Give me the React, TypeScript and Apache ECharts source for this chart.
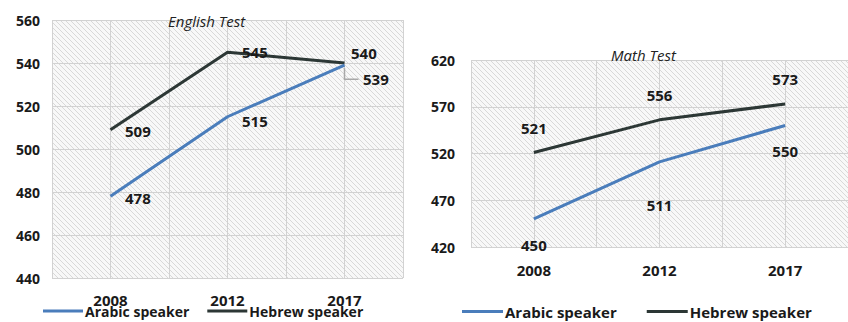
import React, { useEffect, useRef } from "react";
import * as echarts from "echarts";

// Test years shared by both panels
const years = ["2008", "2012", "2017"];

// English test scores
const englishArabic = [478, 515, 539];
const englishHebrew = [509, 545, 540];

// Math test scores
const mathArabic = [450, 511, 550];
const mathHebrew = [521, 556, 573];

const BLUE = "#4a7dbb";
const DARK = "#2c3735";
const FONT = "Open Sans";

function hatchPattern() {
  const size = 5;
  const c = document.createElement("canvas");
  c.width = size;
  c.height = size;
  const ctx = c.getContext("2d")!;
  ctx.fillStyle = "#f8f8f8";
  ctx.fillRect(0, 0, size, size);
  ctx.strokeStyle = "#d8d8d8";
  ctx.lineWidth = 1;
  for (let k = -1; k <= 1; k++) {
    ctx.beginPath();
    ctx.moveTo(-1, -1 + size * k);
    ctx.lineTo(size + 1, size + 1 + size * k);
    ctx.stroke();
  }
  return {
    image: c.toDataURL(),
    imageWidth: size,
    imageHeight: size,
    repeat: "repeat",
  } as any;
}

export default function App() {
  const ref = useRef<HTMLDivElement>(null);

  useEffect(() => {
    if (!ref.current) return;
    const chart = echarts.init(ref.current, undefined, { renderer: "svg" });
    const pattern = hatchPattern();

    const labelBase = {
      show: true,
      opacity: 1,
      color: "#1a1a1a",
      fontFamily: FONT,
      fontWeight: "bold" as const,
      fontSize: 15,
    };

    const LEADER_DROP = 14;
    const LEADER_GAP = 18;

    const engArabicLabels = [
      { position: "right", distance: 14, offset: [0, 2] },
      { position: "right", distance: 14, offset: [0, 4] },
      { position: "right", distance: LEADER_GAP, offset: [0, LEADER_DROP] },
    ];
    const engHebrewLabels = [
      { position: "right", distance: 14, offset: [0, 1] },
      { position: "right", distance: 14, offset: [0, 0] },
      { position: "right", distance: 6, offset: [0, -10] },
    ];
    const mathArabicLabels = [
      { position: "bottom", distance: 18 },
      { position: "bottom", distance: 35 },
      { position: "bottom", distance: 18 },
    ];
    const mathHebrewLabels = [
      { position: "top", distance: 17 },
      { position: "top", distance: 17 },
      { position: "top", distance: 17 },
    ];

    const build = (vals: number[], labels: any[]) =>
      vals.map((v, i) => ({ value: v, label: labels[i] }));

    const axisText = {
      color: "#1a1a1a",
      fontFamily: FONT,
      fontWeight: "bold" as const,
    };

    const gridLine = { show: true, lineStyle: { color: "#d2d2d2", width: 1 } };

    const valueAxisBase = {
      type: "value" as const,
      axisLine: { show: false },
      axisTick: { show: false },
      splitLine: gridLine,
    };

    const catAxisBase = {
      type: "category" as const,
      data: years,
      boundaryGap: true,
      axisLine: { show: false },
      axisTick: { show: false },
      splitLine: { show: false },
    };

    // Hidden helper axes that give the half-band vertical gridlines
    const vGridAxis = (gridIndex: number) => ({
      type: "value" as const,
      gridIndex,
      min: 0,
      max: 6,
      interval: 1,
      position: "top" as const,
      axisLine: { show: false },
      axisTick: { show: false },
      axisLabel: { show: false },
      splitLine: gridLine,
    });

    const lineSeries = (
      name: string,
      color: string,
      axis: number,
      data: any[],
      z: number
    ) => ({
      name,
      type: "line",
      xAxisIndex: axis,
      yAxisIndex: axis,
      symbol: "circle",
      symbolSize: 1,
      showSymbol: true,
      lineStyle: { color, width: 3 },
      itemStyle: { color, opacity: 0 },
      emphasis: { disabled: true },
      data,
      label: labelBase,
      z,
    });

    const titleStyle = {
      fontFamily: FONT,
      fontStyle: "italic" as const,
      fontWeight: "normal" as const,
      fontSize: 15,
      color: "#222",
    };

    const legendBase = {
      top: 304,
      icon: "rect",
      itemHeight: 3,
      padding: 0,
      data: ["Arabic speaker", "Hebrew speaker"],
      itemStyle: { opacity: 1 },
    };

    chart.setOption({
      animation: false,
      backgroundColor: "#ffffff",
      title: [
        { text: "English Test", left: 163, top: 8, textStyle: titleStyle },
        { text: "Math Test", left: 606, top: 42, textStyle: titleStyle },
      ],
      legend: [
        {
          ...legendBase,
          left: 43,
          itemWidth: 40,
          itemGap: 18,
          textStyle: { ...axisText, fontSize: 14, padding: [0, 0, 0, -3] },
        },
        {
          ...legendBase,
          left: 462,
          itemWidth: 41,
          itemGap: 30,
          textStyle: { ...axisText, fontSize: 15, padding: [0, 0, 0, -3] },
        },
      ],
      grid: [
        { left: 52, top: 20, width: 351, height: 258, show: true, backgroundColor: pattern, borderWidth: 0 },
        { left: 471, top: 60, width: 383, height: 187, show: true, backgroundColor: pattern, borderWidth: 0 },
      ],
      xAxis: [
        { ...catAxisBase, gridIndex: 0, axisLabel: { ...axisText, fontSize: 15, margin: 14 } },
        { ...catAxisBase, gridIndex: 1, axisLabel: { ...axisText, fontSize: 15, margin: 15 } },
        vGridAxis(0),
        vGridAxis(1),
      ],
      yAxis: [
        {
          ...valueAxisBase,
          gridIndex: 0,
          min: 440,
          max: 560,
          interval: 20,
          axisLabel: { ...axisText, fontSize: 14, margin: 12 },
        },
        {
          ...valueAxisBase,
          gridIndex: 1,
          min: 420,
          max: 620,
          interval: 50,
          axisLabel: { ...axisText, fontSize: 14, margin: 16 },
        },
      ],
      series: [
        lineSeries("Arabic speaker", BLUE, 0, build(englishArabic, engArabicLabels), 3),
        lineSeries("Hebrew speaker", DARK, 0, build(englishHebrew, engHebrewLabels), 2),
        lineSeries("Arabic speaker", BLUE, 1, build(mathArabic, mathArabicLabels), 3),
        lineSeries("Hebrew speaker", DARK, 1, build(mathHebrew, mathHebrewLabels), 2),
      ],
    });

    // Elbow leader from the 2017 Arabic point down and across to its label
    const last = englishArabic.length - 1;
    const [px, py] = chart.convertToPixel({ xAxisIndex: 0, yAxisIndex: 0 }, [
      last,
      englishArabic[last],
    ]) as number[];
    chart.setOption({
      graphic: [
        {
          type: "polyline",
          z: 1,
          shape: {
            points: [
              [px, py + 3],
              [px, py + LEADER_DROP],
              [px + LEADER_GAP - 4, py + LEADER_DROP],
            ],
          },
          style: { stroke: "#a8a8a8", lineWidth: 1.5, fill: null },
        },
      ],
    });

    return () => chart.dispose();
  }, []);

  return (
    <div
      ref={ref}
      style={{ position: "absolute", left: 0, top: 0, width: 848, height: 322 }}
    />
  );
}
